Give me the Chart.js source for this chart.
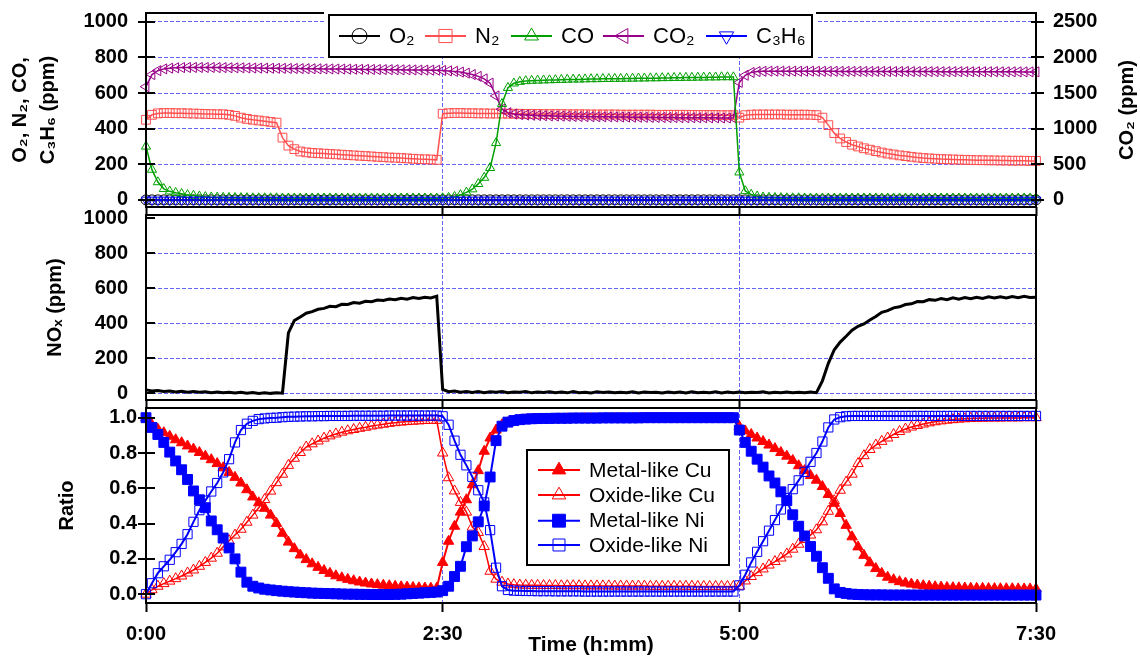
<!DOCTYPE html>
<html><head><meta charset="utf-8">
<script src="https://cdn.jsdelivr.net/npm/chart.js@4.4.1/dist/chart.umd.min.js"></script>
<style>
html,body{margin:0;padding:0;background:#fff;}
#wrap{position:relative;width:1140px;height:656px;overflow:hidden;background:#fff;}
canvas{position:absolute;left:0;}
</style></head><body>
<div id="wrap">
<canvas id="c1" width="1140" height="222" style="top:0px"></canvas>
<canvas id="c2" width="1140" height="208" style="top:207px"></canvas>
<canvas id="c3" width="1140" height="256" style="top:400px"></canvas>
</div>
<script>
// ---------- categories / tick labels ----------
const times = [
0,3,6,9,12,15,18,21,24,27,
30,33,36,39,42,45,48,51,54,57,
60,63,66,69,72,75,78,81,84,87,
90,93,96,99,102,105,108,111,114,117,
120,123,126,129,132,135,138,141,144,147,
150,153,156,159,162,165,168,171,174,177,
180,183,186,189,192,195,198,201,204,207,
210,213,216,219,222,225,228,231,234,237,
240,243,246,249,252,255,258,261,264,267,
270,273,276,279,282,285,288,291,294,297,
300,303,306,309,312,315,318,321,324,327,
330,333,336,339,342,345,348,351,354,357,
360,363,366,369,372,375,378,381,384,387,
390,393,396,399,402,405,408,411,414,417,
420,423,426,429,432,435,438,441,444,447,
450];
const timeTickValues = [0,150,300,450];
const timeLabels = ['0:00','2:30','5:00','7:30'];
const gasTickValues = [0,200,400,600,800,1000];
const gasTickLabels = ['0','200','400','600','800','1000'];
const co2TickValues = [0,500,1000,1500,2000,2500];
const co2TickLabels = ['0','500','1000','1500','2000','2500'];
const ratioTickValues = [0,0.2,0.4,0.6,0.8,1.0];
const ratioTickLabels = ['0.0','0.2','0.4','0.6','0.8','1.0'];

// ---------- top panel series (ppm) ----------
const o2 = [
0,0,0,0,0,0,0,0,0,0, 0,0,0,0,0,0,0,0,0,0, 0,0,0,0,0,0,0,0,0,0,
0,0,0,0,0,0,0,0,0,0, 0,0,0,0,0,0,0,0,0,0, 0,0,0,0,0,0,0,0,0,0,
0,0,0,0,0,0,0,0,0,0, 0,0,0,0,0,0,0,0,0,0, 0,0,0,0,0,0,0,0,0,0,
0,0,0,0,0,0,0,0,0,0, 0,0,0,0,0,0,0,0,0,0, 0,0,0,0,0,0,0,0,0,0,
0,0,0,0,0,0,0,0,0,0, 0,0,0,0,0,0,0,0,0,0, 0,0,0,0,0,0,0,0,0,0,
0];
const n2 = [
450,478,486,488,488,487,487,486,485,484,
483,482,481,481,478,472,462,455,450,446,
442,438,434,350,305,285,272,267,264,262,
260,258,256,254,252,250,248,246,244,242,
240,238,237,235,233,231,229,228,227,225,
484,487,488,488,487,487,486,486,485,485,
485,484,484,484,483,483,483,482,482,482,
482,481,481,481,481,480,480,480,480,480,
479,479,479,479,479,479,478,478,478,478,
478,478,477,477,477,477,477,476,476,476,
462,476,479,480,480,480,480,480,479,479,
479,479,478,476,462,420,375,345,325,310,
300,290,282,274,266,260,255,250,246,242,
238,235,233,231,229,228,227,226,225,224,
223,223,222,222,221,221,220,220,220,219,
219];
const co = [
300,170,100,62,48,40,34,28,24,20,
17,15,14,13,12,12,11,11,10,10,
10,10,10,9,9,9,9,9,9,9,
9,9,9,9,9,9,9,9,9,9,
9,9,9,9,9,9,9,9,9,9,
10,12,18,28,42,60,90,125,180,320,
540,630,655,664,668,670,671,672,673,674,
675,676,677,677,678,679,679,680,680,681,
681,682,682,683,683,684,684,685,685,686,
686,687,687,688,688,689,689,690,690,690,
155,50,30,20,15,13,12,11,10,10,
10,9,9,9,9,9,9,9,9,9,
9,9,9,9,9,9,9,9,9,9,
9,9,9,9,9,9,9,9,9,9,
9,9,9,9,9,9,9,9,9,9,
9];
const co2 = [
1590,1760,1815,1840,1850,1855,1858,1860,1860,1860,
1860,1860,1858,1858,1856,1855,1855,1853,1852,1851,
1850,1849,1848,1847,1846,1845,1844,1843,1842,1841,
1840,1839,1838,1837,1836,1835,1834,1833,1832,1831,
1830,1829,1828,1827,1826,1825,1824,1823,1822,1821,
1818,1812,1805,1795,1780,1760,1735,1700,1640,1460,
1275,1225,1205,1197,1192,1188,1185,1182,1180,1178,
1176,1174,1172,1171,1170,1169,1168,1167,1166,1165,
1164,1163,1162,1161,1160,1159,1158,1158,1157,1156,
1155,1155,1154,1153,1153,1152,1152,1151,1151,1150,
1650,1750,1790,1802,1806,1808,1808,1808,1808,1808,
1807,1807,1807,1806,1806,1806,1806,1805,1805,1805,
1805,1804,1804,1804,1804,1803,1803,1803,1803,1802,
1802,1802,1802,1802,1801,1801,1801,1801,1801,1800,
1800,1800,1800,1800,1799,1799,1799,1799,1798,1798,
1798];
const c3h6 = [
0,0,0,0,0,0,0,0,0,0, 0,0,0,0,0,0,0,0,0,0, 0,0,0,0,0,0,0,0,0,0,
0,0,0,0,0,0,0,0,0,0, 0,0,0,0,0,0,0,0,0,0, 0,0,0,0,0,0,0,0,0,0,
0,0,0,0,0,0,0,0,0,0, 0,0,0,0,0,0,0,0,0,0, 0,0,0,0,0,0,0,0,0,0,
0,0,0,0,0,0,0,0,0,0, 0,0,0,0,0,0,0,0,0,0, 0,0,0,0,0,0,0,0,0,0,
0,0,0,0,0,0,0,0,0,0, 0,0,0,0,0,0,0,0,0,0, 0,0,0,0,0,0,0,0,0,0,
0];

// ---------- middle panel (ppm) ----------
const nox = [
18,12,15,9,11,6,10,5,8,4,
7,2,6,1,5,0,4,-1,3,-2,
2,-2,1,-1,345,415,436,457,466,480,
485,497,495,508,507,518,515,526,523,533,
530,538,534,543,538,547,542,549,545,555,
20,8,12,4,9,3,8,2,7,5,
8,2,6,4,8,1,6,3,7,2,
6,1,8,2,5,0,7,3,6,1,
5,2,7,0,6,3,5,0,6,2,
6,0,7,2,4,2,7,0,6,1,
6,1,5,3,7,0,5,2,6,1,
5,1,6,2,70,170,248,292,325,360,
382,396,418,438,462,472,488,494,507,511,
524,523,535,531,541,535,545,538,547,540,
549,542,551,544,552,545,553,546,554,547,
549];

// ---------- bottom panel (ratio) ----------
const metalCu = [
1.00,0.96,0.935,0.915,0.895,0.875,0.858,0.840,0.822,0.803,
0.782,0.762,0.740,0.716,0.690,0.662,0.630,0.592,0.551,0.518,
0.487,0.448,0.401,0.345,0.295,0.258,0.222,0.196,0.172,0.152,
0.134,0.118,0.104,0.093,0.084,0.076,0.069,0.063,0.058,0.054,
0.051,0.048,0.045,0.042,0.040,0.038,0.036,0.035,0.034,0.034,
0.18,0.30,0.385,0.465,0.535,0.62,0.70,0.81,0.885,0.93,
0.96,0.972,0.980,0.985,0.988,0.990,0.991,0.992,0.992,0.993,
0.993,0.994,0.994,0.994,0.995,0.995,0.995,0.995,0.996,0.996,
0.996,0.996,0.996,0.996,0.997,0.997,0.997,0.997,0.997,0.997,
0.997,0.997,0.998,0.998,0.998,0.998,0.998,0.998,0.998,0.998,
0.95,0.925,0.905,0.885,0.865,0.845,0.825,0.803,0.782,0.758,
0.728,0.700,0.672,0.646,0.610,0.565,0.515,0.457,0.390,0.325,
0.268,0.220,0.178,0.145,0.118,0.096,0.082,0.071,0.063,0.057,
0.052,0.048,0.045,0.042,0.040,0.038,0.037,0.036,0.035,0.034,
0.033,0.033,0.032,0.032,0.031,0.031,0.031,0.030,0.030,0.030,
0.030];
const oxideCu = [
0.00,0.025,0.045,0.060,0.074,0.088,0.103,0.120,0.137,0.158,
0.180,0.204,0.232,0.268,0.303,0.335,0.368,0.408,0.448,0.490,
0.536,0.584,0.632,0.680,0.730,0.770,0.803,0.834,0.852,0.868,
0.884,0.897,0.908,0.918,0.926,0.933,0.940,0.946,0.953,0.958,
0.963,0.968,0.972,0.975,0.978,0.980,0.982,0.984,0.985,0.985,
0.80,0.66,0.585,0.52,0.465,0.38,0.35,0.27,0.13,0.085,
0.068,0.058,0.054,0.052,0.051,0.050,0.050,0.049,0.049,0.049,
0.048,0.048,0.048,0.048,0.047,0.047,0.047,0.047,0.047,0.046,
0.046,0.046,0.046,0.046,0.046,0.045,0.045,0.045,0.045,0.045,
0.045,0.045,0.045,0.044,0.044,0.044,0.044,0.044,0.044,0.044,
0.045,0.075,0.100,0.122,0.143,0.165,0.185,0.205,0.228,0.255,
0.283,0.310,0.335,0.365,0.410,0.470,0.530,0.589,0.635,0.680,
0.740,0.785,0.820,0.845,0.866,0.885,0.905,0.922,0.936,0.947,
0.956,0.964,0.971,0.977,0.982,0.986,0.989,0.992,0.994,0.996,
0.997,0.997,0.998,0.998,0.998,0.999,0.999,0.999,1.000,1.000,
1.000];
const metalNi = [
1.00,0.945,0.905,0.86,0.805,0.755,0.705,0.650,0.585,0.535,
0.490,0.415,0.365,0.318,0.262,0.200,0.125,0.068,0.045,0.035,
0.028,0.024,0.020,0.017,0.014,0.012,0.010,0.008,0.006,0.005,
0.004,0.003,0.002,0.001,0.000,0.000,-0.001,-0.001,-0.002,-0.002,
-0.002,-0.002,-0.001,0.000,0.002,0.004,0.006,0.008,0.010,0.012,
0.02,0.045,0.10,0.158,0.269,0.33,0.41,0.50,0.664,0.87,
0.952,0.975,0.984,0.989,0.992,0.994,0.995,0.996,0.996,0.997,
0.997,0.997,0.998,0.998,0.998,0.998,0.998,0.999,0.999,0.999,
0.999,0.999,0.999,0.999,1.000,1.000,1.000,1.000,1.000,1.000,
1.000,1.000,1.000,1.000,1.000,1.000,1.000,1.000,1.000,1.000,
0.93,0.86,0.81,0.765,0.72,0.67,0.63,0.58,0.53,0.45,
0.385,0.33,0.27,0.215,0.15,0.09,0.03,0.01,0.004,0.000,
-0.002,-0.003,-0.004,-0.004,-0.004,-0.005,-0.005,-0.005,-0.005,-0.005,
-0.005,-0.005,-0.005,-0.005,-0.005,-0.005,-0.005,-0.005,-0.005,-0.005,
-0.005,-0.005,-0.005,-0.005,-0.005,-0.005,-0.005,-0.005,-0.005,-0.005,
-0.005];
const oxideNi = [
0.00,0.062,0.119,0.158,0.195,0.238,0.285,0.34,0.41,0.476,
0.53,0.582,0.63,0.69,0.765,0.86,0.93,0.966,0.982,0.992,
0.996,0.999,1.000,1.003,1.005,1.006,1.007,1.008,1.008,1.009,
1.009,1.010,1.010,1.010,1.010,1.011,1.011,1.011,1.011,1.011,
1.011,1.012,1.012,1.012,1.012,1.012,1.012,1.012,1.012,1.012,
1.008,0.96,0.87,0.79,0.73,0.665,0.589,0.52,0.363,0.15,
0.045,0.024,0.020,0.019,0.018,0.018,0.017,0.017,0.017,0.016,
0.016,0.016,0.016,0.016,0.015,0.015,0.015,0.015,0.015,0.015,
0.015,0.015,0.015,0.015,0.015,0.015,0.015,0.015,0.015,0.015,
0.015,0.015,0.015,0.015,0.015,0.015,0.015,0.015,0.015,0.015,
0.05,0.11,0.18,0.24,0.30,0.36,0.42,0.48,0.545,0.595,
0.645,0.693,0.75,0.80,0.865,0.945,0.99,1.003,1.008,1.010,
1.010,1.010,1.010,1.010,1.010,1.010,1.010,1.010,1.010,1.010,
1.010,1.010,1.010,1.010,1.010,1.010,1.010,1.010,1.010,1.010,
1.010,1.010,1.010,1.010,1.010,1.010,1.010,1.010,1.010,1.010,
1.010];

// ---------- styling ----------
const FONT = "'Liberation Sans', Arial, Helvetica, sans-serif";
const GRID = '#6464ff';
const CLEAR = 'rgba(0,0,0,0)';
Chart.defaults.font.family = FONT;
Chart.defaults.color = '#000';

function pts(arr) { return times.map((t, i) => ({x: t, y: arr[i]})); }

function series(label, arr, color, o) {
  return Object.assign({
    label: label, data: pts(arr),
    borderColor: color, backgroundColor: color, borderWidth: 1.5,
    pointStyle: 'circle', pointRadius: 5, pointHoverRadius: 5,
    pointBorderColor: color, pointBackgroundColor: CLEAR, pointBorderWidth: 1,
    pointRotation: 0, tension: 0, clip: false, yAxisID: 'y'
  }, o);
}

function noPad(s) { s.paddingTop = 0; s.paddingBottom = 0; s.paddingLeft = 0; s.paddingRight = 0; }

function xScale(showLabels, height, title) {
  return {
    type: 'linear', min: 0, max: 450,
    afterBuildTicks: s => { s.ticks = timeTickValues.map(v => ({value: v})); },
    ticks: {
      display: showLabels, autoSkip: false, maxRotation: 0, minRotation: 0, padding: 10,
      color: '#000', font: {family: FONT, size: 20, weight: 'bold'},
      callback: (v, i) => timeLabels[i]
    },
    grid: {
      drawOnChartArea: true, lineWidth: 1,
      color: c => (c.tick && (c.tick.value === 150 || c.tick.value === 300)) ? GRID : CLEAR,
      drawTicks: true, tickLength: 9, tickColor: '#000', tickWidth: 2
    },
    border: {display: false, dash: [4, 2]},
    title: title ? {display: true, text: title, color: '#000',
      font: {family: FONT, size: 21, weight: 'bold', lineHeight: 1}, padding: {top: 0, bottom: 0}}
      : {display: false},
    afterFit: s => { s.height = height; noPad(s); }
  };
}

function yScale(o) {
  return {
    type: 'linear', position: o.position || 'left', min: o.min, max: o.max,
    afterBuildTicks: s => { s.ticks = o.values.map(v => ({value: v})); },
    ticks: {
      autoSkip: false, padding: o.pad, color: '#000',
      font: {family: FONT, size: 20, weight: 'bold'},
      callback: (v, i) => o.labels[i]
    },
    grid: {
      drawTicks: false, drawOnChartArea: !!o.grid, lineWidth: 1,
      color: c => (o.grid && c.tick && o.grid.indexOf(c.tick.value) >= 0) ? GRID : CLEAR
    },
    border: {display: false, dash: [4, 2]},
    title: o.title ? {display: true, text: o.title, color: '#000',
      font: {family: FONT, size: 20, weight: 'bold', lineHeight: o.lh || 1.2},
      padding: {top: o.tpad, bottom: 0}} : {display: false},
    afterFit: s => { s.width = o.width; noPad(s); }
  };
}

function drawLegendItem(ctx, ds, x0, len, y, textX, font, k) {
  ctx.save();
  ctx.strokeStyle = ds.borderColor; ctx.lineWidth = 2;
  ctx.beginPath(); ctx.moveTo(x0, y); ctx.lineTo(x0 + len, y); ctx.stroke();
  ctx.fillStyle = ds.pointBackgroundColor; ctx.strokeStyle = ds.pointBorderColor;
  ctx.lineWidth = ds.pointBorderWidth;
  Chart.helpers.drawPoint(ctx, {pointStyle: ds.pointStyle, radius: ds.pointRadius * k,
    rotation: ds.pointRotation || 0, borderWidth: ds.pointBorderWidth}, x0 + len / 2, y);
  ctx.fillStyle = '#000'; ctx.font = font; ctx.textAlign = 'left'; ctx.textBaseline = 'middle';
  ctx.fillText(ds.label, textX, y + 1);
  ctx.restore();
}

function decor(cfg) {
  return {
    id: 'decor' + cfg.name,
    afterDatasetsDraw(chart) {
      const ctx = chart.ctx, a = chart.chartArea;
      ctx.save();
      ctx.strokeStyle = '#000'; ctx.lineWidth = 2;
      ctx.strokeRect(a.left, a.top, a.right - a.left, a.bottom - a.top);
      cfg.marks.forEach(m => {
        const sc = chart.scales[m.id];
        sc.ticks.forEach(t => {
          const y = Math.round(sc.getPixelForValue(t.value));
          ctx.beginPath(); ctx.moveTo(m.x1, y); ctx.lineTo(m.x2, y); ctx.stroke();
        });
      });
      ctx.restore();
      if (cfg.extra) cfg.extra(chart, ctx);
    }
  };
}

const common = {
  responsive: false, animation: false, devicePixelRatio: 1, events: [],
  plugins: {legend: {display: false}, tooltip: {enabled: false}}
};

// ---------- top chart ----------
const topSets = [
  series('O₂', o2, '#000000', {pointStyle: 'circle', pointRadius: 5, order: 5}),
  series('N₂', n2, '#ff4f4f', {pointStyle: 'rect', pointRadius: 6.2, order: 3}),
  series('CO', co, '#00a000', {pointStyle: 'triangle', pointRadius: 5.3, order: 1}),
  series('CO₂', co2, '#990088', {pointStyle: 'triangle', pointRotation: -90, pointRadius: 5.8, order: 2, yAxisID: 'y2'}),
  series('C₃H₆', c3h6, '#0000ff', {pointStyle: 'triangle', pointRotation: 180, pointRadius: 5.5, order: 0})
];
new Chart(document.getElementById('c1'), {
  type: 'line',
  data: {datasets: topSets},
  options: Object.assign({}, common, {
    layout: {padding: {top: 13, left: 0, right: 0, bottom: 0}},
    scales: {
      x: xScale(false, 15),
      y: yScale({min: -40, max: 1050, values: gasTickValues, labels: gasTickLabels, pad: 18,
        grid: gasTickValues, width: 146, title: ['O₂, N₂, CO,', 'C₃H₆ (ppm)'], tpad: 6, lh: 1.42}),
      y2: yScale({position: 'right', min: -100, max: 2625, values: co2TickValues, labels: co2TickLabels,
        pad: 17, width: 104})
    }
  }),
  plugins: [decor({name: 'top',
    marks: [{id: 'y', x1: 138, x2: 155}, {id: 'y2', x1: 1031, x2: 1044}],
    extra: (chart, ctx) => {
      ctx.save();
      ctx.fillStyle = '#fff'; ctx.fillRect(324, 8, 492, 50);
      ctx.strokeStyle = '#000'; ctx.lineWidth = 2; ctx.strokeRect(329, 15, 483, 42);
      const lx = [339, 425, 511, 603, 706];
      const order = [0, 1, 2, 3, 4];
      order.forEach((di, k) => drawLegendItem(ctx, topSets[di], lx[k], 41, 36, lx[k] + 50,
        '22px ' + FONT, 1.5));
      ctx.fillStyle = '#000'; ctx.font = 'bold 20px ' + FONT;
      ctx.textAlign = 'center'; ctx.textBaseline = 'middle';
      ctx.translate(1127, 110); ctx.rotate(-Math.PI / 2);
      ctx.fillText('CO₂ (ppm)', 0, 0);
      ctx.restore();
    }})]
});

// ---------- middle chart ----------
new Chart(document.getElementById('c2'), {
  type: 'line',
  data: {datasets: [series('NOx', nox, '#000000', {pointRadius: 0, borderWidth: 3})]},
  options: Object.assign({}, common, {
    layout: {padding: {top: 8, left: 0, right: 104, bottom: 0}},
    scales: {
      x: xScale(false, 15),
      y: yScale({min: -40, max: 1020, values: gasTickValues, labels: gasTickLabels, pad: 18,
        grid: [0, 200, 400, 600, 800], width: 146, title: 'NOₓ (ppm)', tpad: 43})
    }
  }),
  plugins: [decor({name: 'mid', marks: [{id: 'y', x1: 146, x2: 155}]})]
});

// ---------- bottom chart ----------
const botSets = [
  series('Metal-like Cu', metalCu, '#ff0000', {pointStyle: 'triangle', pointRadius: 6, pointBackgroundColor: '#ff0000', borderWidth: 2, order: 3}),
  series('Oxide-like Cu', oxideCu, '#ff0000', {pointStyle: 'triangle', pointRadius: 6, borderWidth: 1.5, order: 2}),
  series('Metal-like Ni', metalNi, '#0000ff', {pointStyle: 'rect', pointRadius: 7, pointBackgroundColor: '#0000ff', borderWidth: 2, order: 1}),
  series('Oxide-like Ni', oxideNi, '#0000ff', {pointStyle: 'rect', pointRadius: 6.5, borderWidth: 2, order: 0})
];
new Chart(document.getElementById('c3'), {
  type: 'line',
  data: {datasets: botSets},
  options: Object.assign({}, common, {
    layout: {padding: {top: 7, left: 0, right: 104, bottom: 0}},
    scales: {
      x: xScale(true, 53, 'Time (h:mm)'),
      y: yScale({min: -0.05, max: 1.055, values: ratioTickValues, labels: ratioTickLabels, pad: 9,
        width: 146, title: 'Ratio', tpad: 55})
    }
  }),
  plugins: [decor({name: 'bot', marks: [{id: 'y', x1: 138, x2: 155}],
    extra: (chart, ctx) => {
      ctx.save();
      ctx.fillStyle = '#fff'; ctx.fillRect(527, 50, 202, 115);
      ctx.strokeStyle = '#000'; ctx.lineWidth = 2; ctx.strokeRect(527, 50, 202, 115);
      const ry = [70, 95, 120.7, 145];
      botSets.forEach((ds, k) => drawLegendItem(ctx, ds, 538, 42, ry[k], 589, '21px ' + FONT, 1.3));
      ctx.restore();
    }})]
});
</script>
</body></html>
